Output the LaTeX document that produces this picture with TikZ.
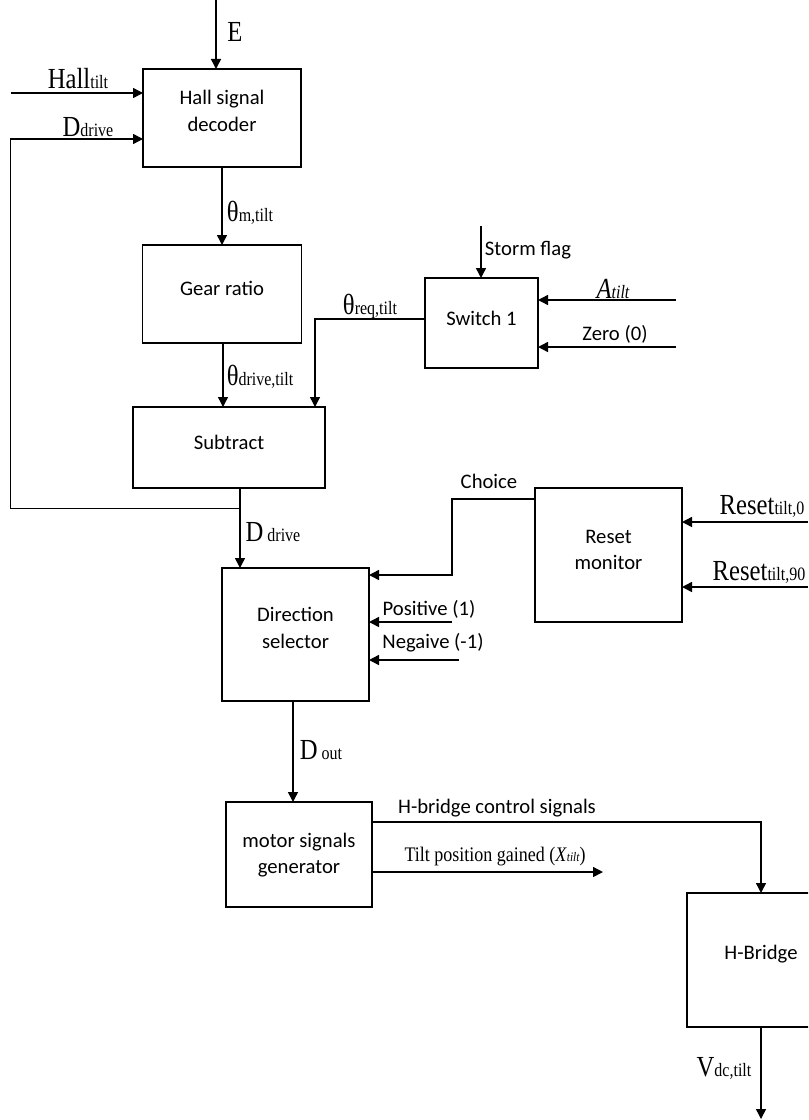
\documentclass[tikz,border=0pt]{standalone}
\usepackage{fontspec}
\usepackage{graphicx}
\usetikzlibrary{arrows.meta}
\newfontfamily\sansf{Carlito}
\newfontfamily\serf{Liberation Serif}
% serif signal name with a small trailing index set on the baseline
\newcommand\siglbl[2]{\scalebox{1}[1.18]{\serf\fontsize{18.5}{20}\selectfont #1{\fontsize{12}{12}\selectfont #2}}}
\begin{document}
\begin{tikzpicture}[x=0.75pt,y=-0.75pt,
  box/.style={draw, line width=1.1pt, inner sep=0pt, outer sep=0pt},
  btxt/.style={font=\sansf\fontsize{15.5}{20}\selectfont, align=center, inner sep=0pt},
  stxt/.style={font=\sansf\fontsize{15.5}{20}\selectfont, inner sep=0pt},
  sig/.style={inner sep=0pt},
  arr/.style={line width=1.1pt, -{Triangle[length=7.5pt,width=7.5pt]}},
  fb/.style={line width=0.75pt}]
\useasboundingbox (0,0) rectangle (808,1120);
\clip (0,0) rectangle (808,1120);

% blocks
\node[box, minimum width=158pt*0.75, minimum height=98pt*0.75] (dec) at (222,118) {};
\node[box, minimum width=159pt*0.75, minimum height=98pt*0.75] (gear) at (222,294) {};
\node[box, minimum width=192pt*0.75, minimum height=81pt*0.75] (sub) at (229,447.5) {};
\node[box, minimum width=113pt*0.75, minimum height=90pt*0.75] (sw) at (481.5,323) {};
\node[box, minimum width=147pt*0.75, minimum height=134pt*0.75] (rst) at (608.5,555) {};
\node[box, minimum width=147pt*0.75, minimum height=133pt*0.75] (dir) at (295.5,634.5) {};
\node[box, minimum width=146pt*0.75, minimum height=105pt*0.75] (mot) at (299,854.5) {};
\node[box, minimum width=148pt*0.75, minimum height=134pt*0.75] (hb) at (761,960) {};

% block captions
\node[btxt] (decT) at (222,111) {Hall signal\\decoder};
\node[btxt] (gearT) at (222,288) {Gear ratio};
\node[btxt] (subT) at (229,442) {Subtract};
\node[btxt] (swT) at (481.5,318) {Switch 1};
\node[btxt] (rstT) at (608.5,550) {Reset\\monitor};
\node[btxt] (dirT) at (295.5,628) {Direction\\selector};
\node[btxt] (motT) at (299,855) {motor signals\\generator};
\node[btxt] (hbT) at (761,954) {H-Bridge};

% free ends of the connectors
\coordinate (eIn) at (216,0);
\coordinate (hallIn) at (11,93);
\coordinate (fbJ) at (240,508);
\coordinate (fbB) at (10,508);
\coordinate (fbC) at (10,139);
\coordinate (reqC) at (315,319);
\coordinate (stormIn) at (481,226);
\coordinate (aIn) at (676,300);
\coordinate (zeroIn) at (676,347);
\coordinate (chC) at (452,499);
\coordinate (chD) at (452,575);
\coordinate (r0In) at (808,522);
\coordinate (r90In) at (808,587);
\coordinate (posIn) at (452,622);
\coordinate (negIn) at (459,660);
\coordinate (doutX) at (293,0);
\coordinate (hbC) at (761,822);
\coordinate (tiltOut) at (603,872);
\coordinate (vdcOut) at (761,1119);

% connectors
\draw[arr] (eIn) -- (eIn |- dec.north);
\draw[arr] (hallIn) -- (hallIn -| dec.west);
\draw[fb] (fbJ) -- (fbB) -- (fbC);
\draw[arr] (fbC) -- (fbC -| dec.west);
\draw[arr] (dec.south) -- (gear.north);
\draw[arr] (223,0 |- gear.south) -- (223,0 |- sub.north);
\draw[arr] (reqC -| sw.west) -- (reqC) -- (reqC |- sub.north);
\draw[arr] (stormIn) -- (stormIn |- sw.north);
\draw[arr] (aIn) -- (aIn -| sw.east);
\draw[arr] (zeroIn) -- (zeroIn -| sw.east);
\draw[arr] (240,0 |- sub.south) -- (240,0 |- dir.north);
\draw[arr] (chC -| rst.west) -- (chC) -- (chD) -- (chD -| dir.east);
\draw[arr] (r0In) -- (r0In -| rst.east);
\draw[arr] (r90In) -- (r90In -| rst.east);
\draw[arr] (posIn) -- (posIn -| dir.east);
\draw[arr] (negIn) -- (negIn -| dir.east);
\draw[arr] (doutX |- dir.south) -- (doutX |- mot.north);
\draw[arr] (hbC -| mot.east) -- (hbC) -- (hbC |- hb.north);
\draw[arr] (tiltOut -| mot.east) -- (tiltOut);
\draw[arr] (hb.south) -- (vdcOut);

% signal labels
\node[sig] (lE) at (235,32) {\siglbl{E}{}};
\node[sig] (lHall) at (78,79) {\siglbl{Hall}{tilt}};
\node[sig] (lDd1) at (88,127) {\siglbl{D}{drive}};
\node[sig] (lThm) at (250,213) {\siglbl{θ}{m,tilt}};
\node[sig] (lThd) at (260,377) {\siglbl{θ}{drive,tilt}};
\node[sig] (lThr) at (370,306) {\siglbl{θ}{req,tilt}};
\node[stxt] (lStorm) at (528,250) {Storm flag};
\node[sig] (lA) at (613,289) {\siglbl{\itshape A}{\itshape tilt}};
\node[stxt] (lZero) at (615,334) {Zero (0)};
\node[sig] (lDd2) at (273,532) {\siglbl{D}{\ drive}};
\node[stxt] (lChoice) at (489,481) {Choice};
\node[sig] (lR0) at (762,506) {\siglbl{Reset}{tilt,0}};
\node[sig] (lR90) at (759,572) {\siglbl{Reset}{tilt,90}};
\node[stxt] (lPos) at (429,609) {Positive (1)};
\node[stxt] (lNeg) at (433,643) {Negaive (-1)};
\node[sig] (lDout) at (321,750) {\siglbl{D}{\ out}};
\node[stxt] (lHctl) at (497,808) {H-bridge control signals};
\node[sig] (lTilt) at (495,857) {\scalebox{1}[1.15]{\serf\fontsize{13.5}{15}\selectfont Tilt position gained (\textit{X}{\fontsize{8.5}{9}\selectfont\itshape tilt})}};
\node[sig] (lVdc) at (724,1068) {\siglbl{V}{dc,tilt}};
\end{tikzpicture}
\end{document}
